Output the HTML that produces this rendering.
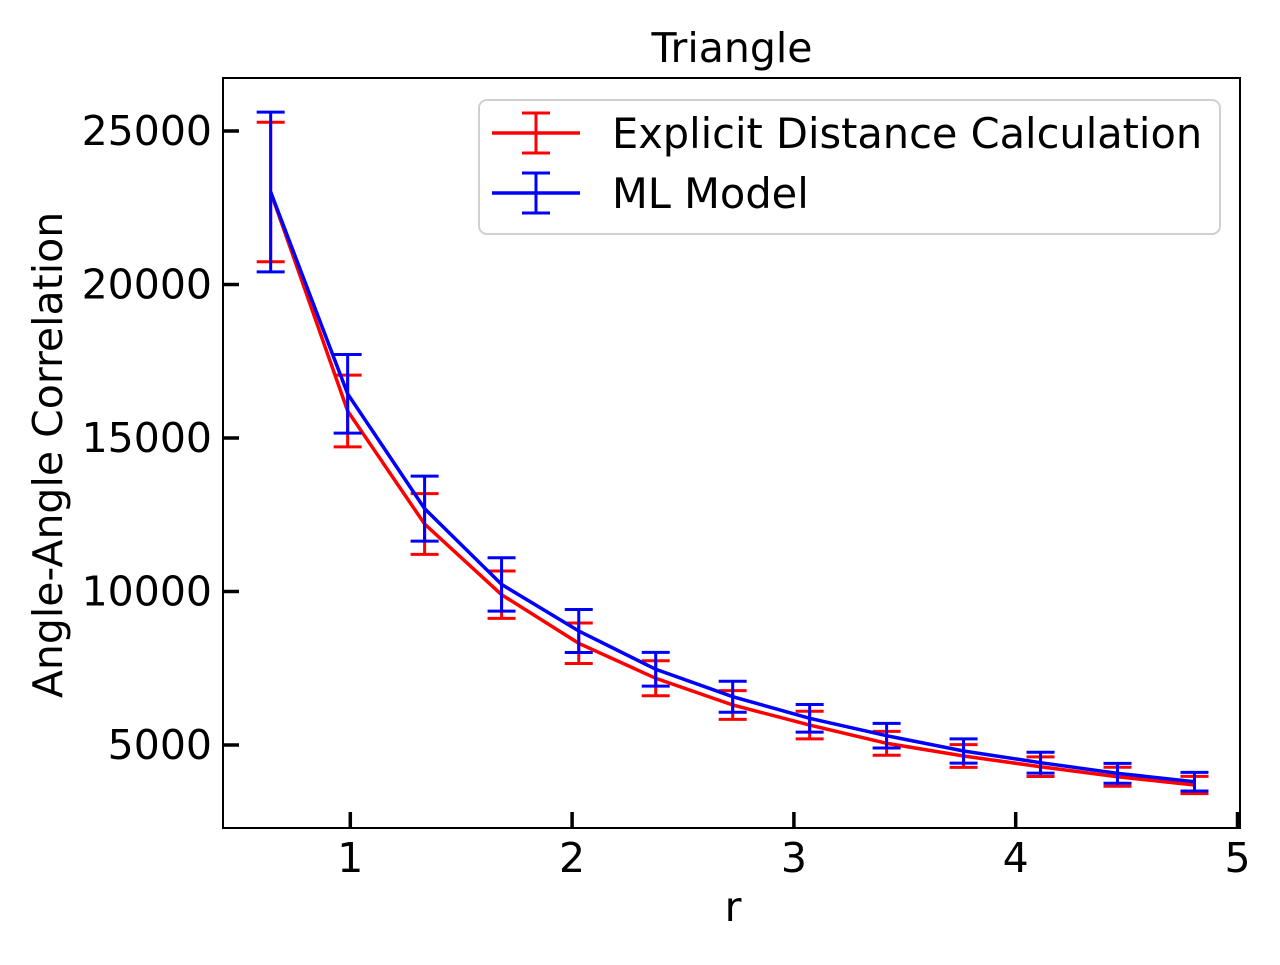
<!DOCTYPE html>
<html><head><meta charset="utf-8"><style>
body{margin:0;background:#fff;}
svg text{font-family:"DejaVu Sans","Liberation Sans",sans-serif;fill:#000;}
</style></head><body>
<svg id="chart" width="1280" height="960" xmlns="http://www.w3.org/2000/svg">
<rect width="1280" height="960" fill="#fff"/>
<g id="plot"></g>
<rect x="223" y="78" width="1017" height="750" fill="none" stroke="#000" stroke-width="2"/>
<text x="732" y="62" font-size="41" text-anchor="middle">Triangle</text>
<text x="733" y="921" font-size="41" text-anchor="middle">r</text>
<text transform="translate(62,455) rotate(-90)" font-size="41" text-anchor="middle">Angle-Angle Correlation</text>
<g id="ticks"></g>
<g>
<rect x="479" y="100" width="741" height="134" rx="8" fill="#fff" stroke="#d0d0d0" stroke-width="2"/>
<line x1="492" y1="133" x2="580" y2="133" stroke="#f00" stroke-width="3.5"/>
<line x1="536" y1="113" x2="536" y2="153" stroke="#f00" stroke-width="3"/>
<line x1="522" y1="113" x2="550" y2="113" stroke="#f00" stroke-width="3"/>
<line x1="522" y1="153" x2="550" y2="153" stroke="#f00" stroke-width="3"/>
<text x="612" y="148" font-size="41.5">Explicit Distance Calculation</text>
<line x1="492" y1="193" x2="580" y2="193" stroke="#00f" stroke-width="3.5"/>
<line x1="536" y1="173" x2="536" y2="213" stroke="#00f" stroke-width="3"/>
<line x1="522" y1="173" x2="550" y2="173" stroke="#00f" stroke-width="3"/>
<line x1="522" y1="213" x2="550" y2="213" stroke="#00f" stroke-width="3"/>
<text x="612" y="208" font-size="41.5">ML Model</text>
</g>
</svg>
<script>
const rValues=[0.641,0.988,1.335,1.682,2.030,2.377,2.724,3.071,3.418,3.765,4.112,4.459,4.806];
const explicitValues=[23013,15880,12199,9896,8313,7173,6303,5651,5055,4641,4293,3967,3697];
const explicitErr=[2270,1170,990,770,660,570,470,450,390,370,320,310,280];
const mlValues=[23013,16440,12700,10231,8713,7466,6573,5870,5303,4805,4424,4078,3805];
const mlErr=[2600,1280,1060,870,700,550,505,450,400,395,340,325,305];
const xTicks=[1,2,3,4,5];
const yTicks=[5000,10000,15000,20000,25000];
const NS="http://www.w3.org/2000/svg";
function xs(v){return 128.5+v*221.8;}
function ys(v){return 898.5-v*0.0307;}
function mk(tag,attrs,parent){const e=document.createElementNS(NS,tag);for(const k in attrs)e.setAttribute(k,attrs[k]);parent.appendChild(e);return e;}
const plot=document.getElementById('plot');
function series(vals,errs,color,name){
  const g=mk('g',{},plot);
  
  
  const pts=rValues.map((r,i)=>xs(r)+','+ys(vals[i])).join(' ');
  const line=mk('polyline',{points:pts,fill:'none',stroke:color,'stroke-width':3.5},g);
  
  
  rValues.forEach((r,i)=>{
    const x=xs(r),t=ys(vals[i]+errs[i]),b=ys(vals[i]-errs[i]);
    const eg=mk('g',{stroke:color,'stroke-width':3},g);
    
    
    mk('line',{x1:x,y1:t,x2:x,y2:b},eg);
    mk('line',{x1:x-14,y1:t,x2:x+14,y2:t},eg);
    mk('line',{x1:x-14,y1:b,x2:x+14,y2:b},eg);
  });
}
series(explicitValues,explicitErr,'#f00','explicit');
series(mlValues,mlErr,'#00f','ml');
const tk=document.getElementById('ticks');
xTicks.forEach(v=>{
  const x=xs(v);
  const l=mk('line',{x1:x,y1:828,x2:x,y2:812,stroke:'#000','stroke-width':3.5},tk);
  
  
  const t=mk('text',{x:x,y:872,'font-size':41,'text-anchor':'middle'},tk);
  t.textContent=v;
  
  
});
yTicks.forEach(v=>{
  const y=ys(v);
  const l=mk('line',{x1:223,y1:y,x2:239,y2:y,stroke:'#000','stroke-width':3.5},tk);
  
  
  const t=mk('text',{x:212,y:y+14,'font-size':41,'text-anchor':'end'},tk);
  t.textContent=v;
  
  
});
</script>
</body></html>
